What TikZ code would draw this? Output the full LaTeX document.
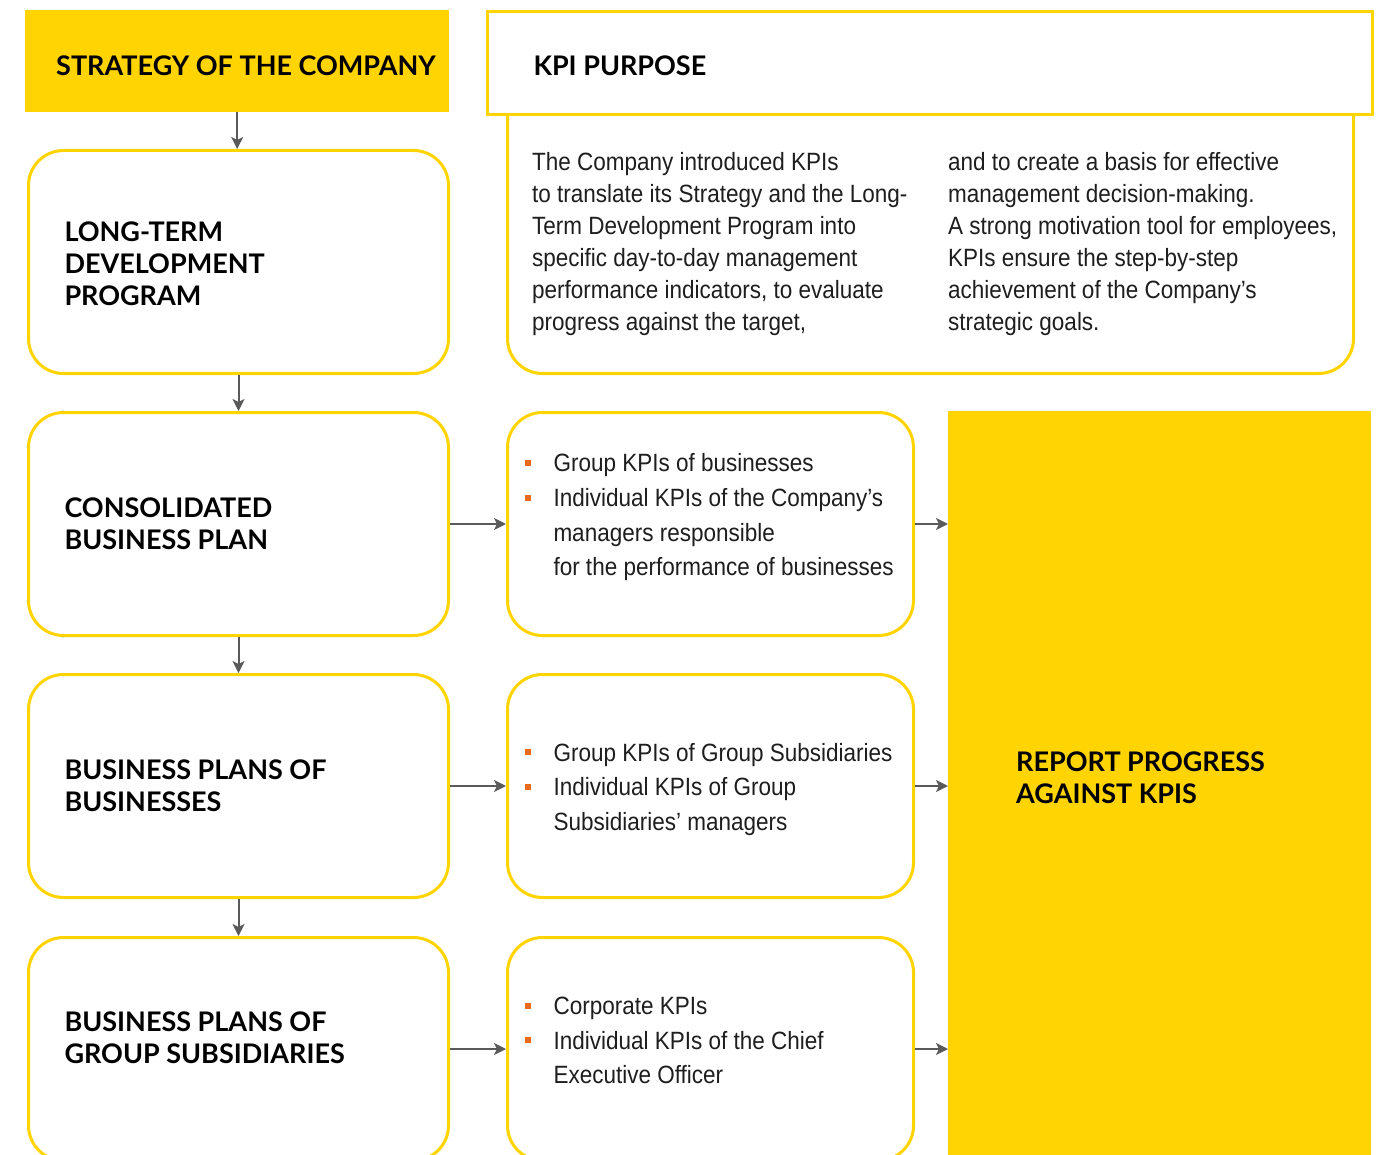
\documentclass[tikz,border=0pt]{standalone}
\usepackage{fontspec}
\setmainfont{Liberation Sans}[FakeStretch=0.90]
\newfontfamily\headfont{Lato}
\usetikzlibrary{
  arrows.meta,
  positioning
}

\definecolor{kpiyellow}{RGB}{255,212,0}
\definecolor{kpigray}{RGB}{90,90,90}
\definecolor{kpiorange}{RGB}{234,106,28}
\definecolor{kpiink}{RGB}{30,30,30}

\newcommand{\kpibul}{\textcolor{kpiorange}{\rule[6pt]{6pt}{6pt}}}

\tikzset{
  every node/.style={execute at begin node={\spaceskip=0pt\xspaceskip=0pt\relax}},
  headfont/.style={font=\headfont\bfseries\fontsize{27}{32}\selectfont},
  plan/.style={headfont, draw=kpiyellow, line width=3pt, rounded corners=35pt,
    fill=white, anchor=north west, minimum width=420pt, minimum height=223pt,
    text width=348pt, inner xsep=36pt, align=left},
  kpilist/.style={draw=kpiyellow, line width=3pt, rounded corners=35pt,
    fill=white, anchor=north west, minimum width=406pt, minimum height=223pt,
    text width=372pt, inner xsep=17pt, align=left, text=kpiink,
    font=\fontsize{25}{34.6}\selectfont},
  bodytext/.style={anchor=west, inner sep=0pt, align=left, text=kpiink,
    font=\fontsize{25}{32}\selectfont},
  flow/.style={draw=kpigray, line width=2pt,
    -{Stealth[length=12pt,width=12pt,inset=3pt]}}
}

\begin{document}
\begin{tikzpicture}[x=1pt, y=-1pt]
\useasboundingbox (0,0) rectangle (1389,1155);
\clip (0,0) rectangle (1389,1155);

% left column
\node[headfont, fill=kpiyellow, anchor=north west, minimum width=424pt,
  minimum height=102pt, text width=362pt, inner xsep=31pt, align=left]
  (strategy) at (25,10) {\mbox{\rule{0pt}{29pt}STRATEGY OF THE COMPANY}};
\node[plan] (ltdp) at (27,149) {\rule{0pt}{24pt}LONG-TERM\\DEVELOPMENT\\PROGRAM};
\node[plan] (consbp) at (27,411) {CONSOLIDATED\\BUSINESS PLAN};
\node[plan] (bpbiz) at (27,673) {BUSINESS PLANS OF\\BUSINESSES};
\node[plan] (bpsub) at (27,936) {BUSINESS PLANS OF\\GROUP SUBSIDIARIES\rule[-22pt]{0pt}{0pt}};

% kpi purpose
\node[draw=kpiyellow, line width=3pt, rounded corners=35pt, fill=white,
  anchor=north west, minimum width=846pt, minimum height=322pt]
  (purpose) at (506,50) {};
\node[headfont, draw=kpiyellow, line width=3pt, fill=white, anchor=north west,
  minimum width=885pt, minimum height=103pt, text width=793pt,
  inner xsep=46pt, align=left] (purposehead) at (486,10)
  {\rule{0pt}{25pt}KPI PURPOSE};
\node[bodytext] (purposeleft) at (532,244) {The Company introduced KPIs\\
  to translate its Strategy and the Long-\\
  Term Development Program into\\
  specific day-to-day management\\
  performance indicators, to evaluate\\
  progress against the target,};
\node[bodytext] (purposeright) at (948,244) {and to create a basis for effective\\
  management decision-making.\\
  A strong motivation tool for employees,\\
  KPIs ensure the step-by-step\\
  achievement of the Company’s\\
  strategic goals.};

% kpi lists
\node[kpilist] (kpibiz) at (506,411) {\begin{tabular}{@{}p{29pt}@{}l@{}}
  \kpibul & Group KPIs of businesses\\
  \kpibul & Individual KPIs of the Company’s\\
  & managers responsible\\
  & for the performance of businesses\rule[-24.5pt]{0pt}{0pt}
  \end{tabular}};
\node[kpilist] (kpisub) at (506,673) {\begin{tabular}{@{}p{29pt}@{}l@{}}
  \kpibul & \rule{0pt}{30pt}Group KPIs of Group Subsidiaries\\
  \kpibul & Individual KPIs of Group\\
  & Subsidiaries’ managers
  \end{tabular}};
\node[kpilist] (kpiceo) at (506,936) {\begin{tabular}{@{}p{29pt}@{}l@{}}
  \kpibul & Corporate KPIs\\
  \kpibul & Individual KPIs of the Chief\\
  & Executive Officer\rule[-23.5pt]{0pt}{0pt}
  \end{tabular}};

% report
\node[headfont, fill=kpiyellow, anchor=north west, minimum width=423pt,
  minimum height=750pt, text width=287pt, inner xsep=68pt, align=left]
  (report) at (948,411) {REPORT PROGRESS\\AGAINST KPIS\rule[-18pt]{0pt}{0pt}};

% arrows
\draw[flow] (strategy.south) -- (strategy.south |- ltdp.north);
\draw[flow] (ltdp.south) -- (consbp.north);
\draw[flow] (consbp.south) -- (bpbiz.north);
\draw[flow] (bpbiz.south) -- (bpsub.north);
\draw[flow] (consbp.east) -- (kpibiz.west);
\draw[flow] (bpbiz.east) -- (kpisub.west);
\draw[flow] (bpsub.east) -- (kpiceo.west);
\draw[flow] (kpibiz.east) -- (kpibiz.east -| report.west);
\draw[flow] (kpisub.east) -- (kpisub.east -| report.west);
\draw[flow] (kpiceo.east) -- (kpiceo.east -| report.west);
\end{tikzpicture}
\end{document}
